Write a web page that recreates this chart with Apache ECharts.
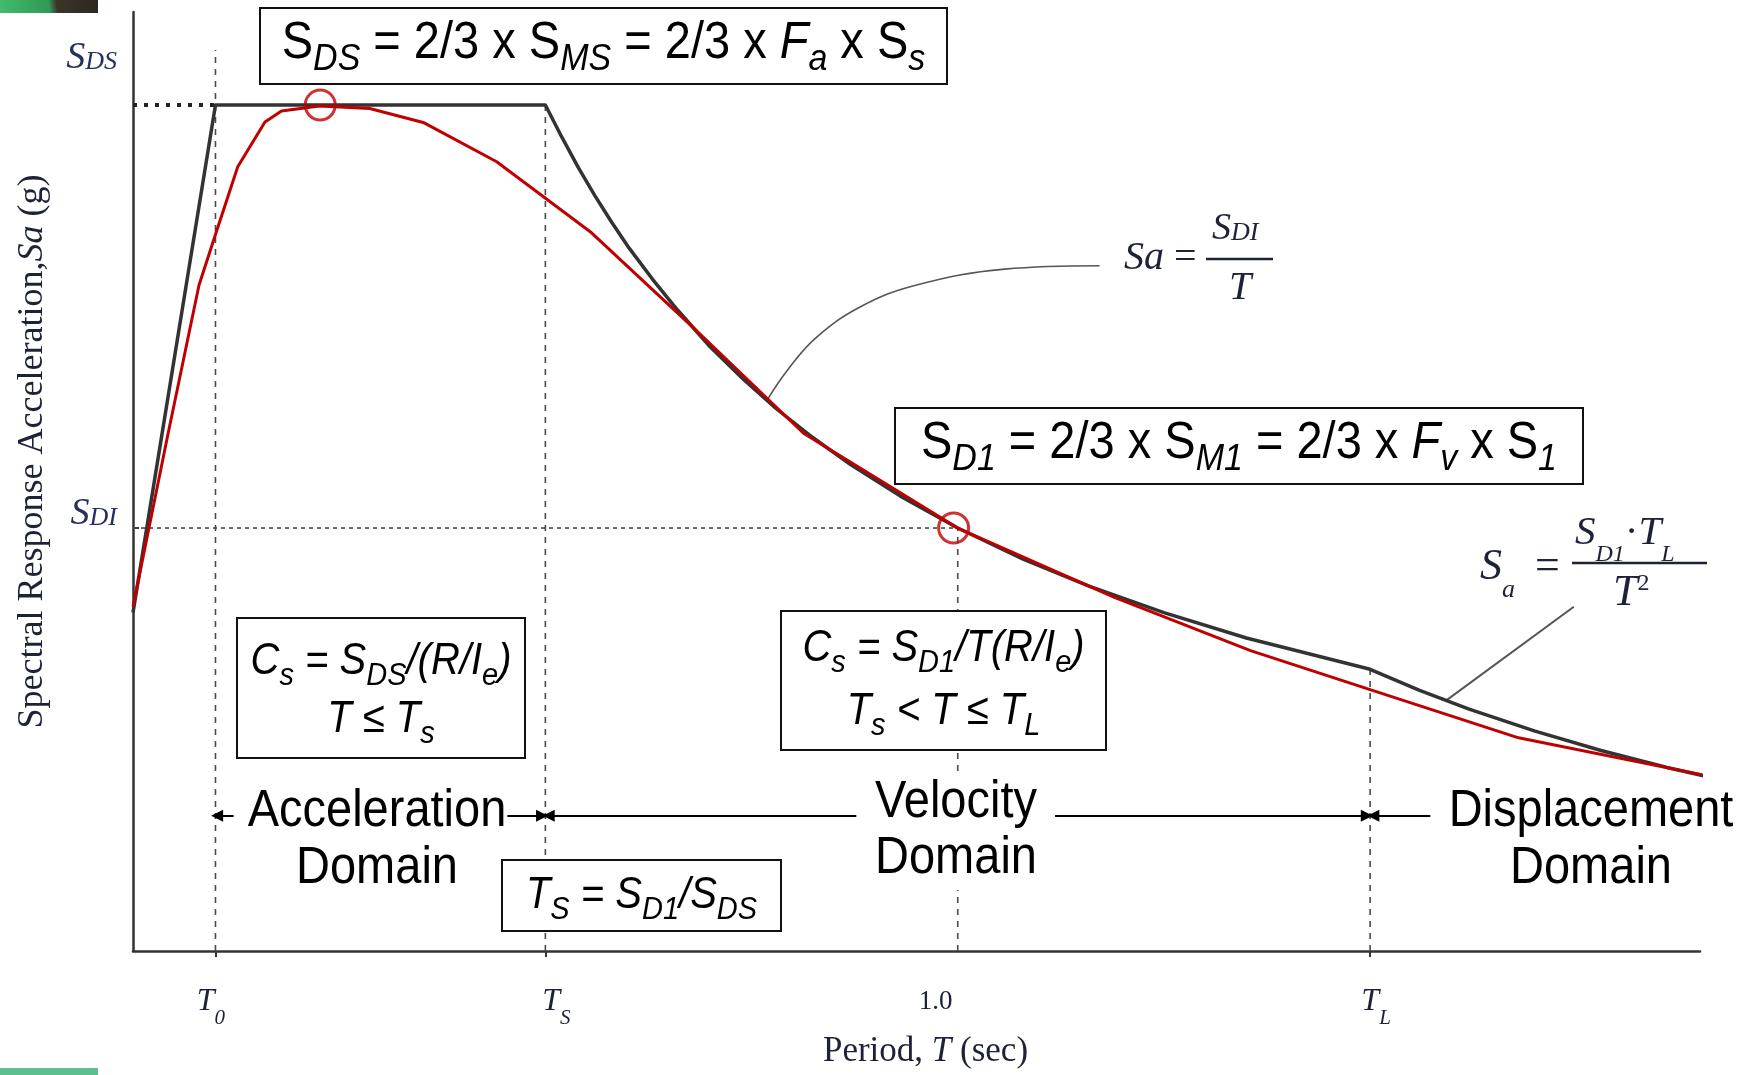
<!DOCTYPE html>
<html><head><meta charset="utf-8">
<script src="https://cdn.jsdelivr.net/npm/echarts@6/dist/echarts.min.js"></script>
<style>html,body{margin:0;padding:0;background:#fff}#c{width:1752px;height:1075px}</style>
</head><body><div id="c"></div>
<script>
// ---- key periods (sec) and spectral levels (normalised: S_DS = 1) ----
const T0 = 0.1, TS = 0.5, T1 = 1.0, TL = 1.5;
const SDS = 1.0, SD1 = 0.5;
const T0_GUIDE_TOP = 1.065;

// design spectrum (black)
const designT  = [0, 0.1, 0.5, 0.52, 0.54, 0.56, 0.58, 0.60, 0.63, 0.66, 0.70, 0.74, 0.78, 0.82, 0.87, 0.93, 1.0, 1.08, 1.16, 1.25, 1.35, 1.5, 1.56, 1.62, 1.70, 1.78, 1.86, 1.95];
const designSa = [0.40, 1.0, 1.0, 0.962, 0.926, 0.893, 0.862, 0.833, 0.794, 0.758, 0.714, 0.676, 0.641, 0.610, 0.575, 0.538, 0.50, 0.463, 0.431, 0.40, 0.370, 0.333, 0.308, 0.286, 0.260, 0.237, 0.217, 0.197];

// site-specific spectrum (red)
const siteT  = [0, 0.042, 0.08, 0.10, 0.127, 0.16, 0.18, 0.226, 0.287, 0.353, 0.441, 0.556, 0.678, 0.813, 1.0, 1.19, 1.355, 1.5, 1.68, 1.95];
const siteSa = [0.407, 0.609, 0.787, 0.847, 0.927, 0.98, 0.993, 0.999, 0.996, 0.979, 0.933, 0.849, 0.738, 0.612, 0.5, 0.418, 0.355, 0.309, 0.252, 0.199];

// circled points
const markT  = [0.227, 0.995];
const markSa = [1.0, 0.5];

// leader lines from the formulas to the curve
const leader1T  = [1.172, 1.057, 0.949, 0.881, 0.827, 0.793, 0.770];
const leader1Sa = [0.810, 0.806, 0.787, 0.761, 0.724, 0.686, 0.653];
const leader2T  = [1.747, 1.592];
const leader2Sa = [0.407, 0.296];

// domain arrows: [from, to] (arrowhead at "to"), all at one Sa level
const arrowSa = 0.16;
const arrowFrom = [0.122, 0.454, 0.877, 1.118, 1.573];
const arrowTo   = [0.102, 0.496, 0.504, 1.496, 1.504];

const xTickValues = [T0, TS, T1, TL];
const xTickMarks  = [T0, TS, TL];
const yTickValues = [SD1, SDS];

const SERIF = "'Liberation Serif', 'Times New Roman', serif";
const SANS  = "'Liberation Sans', Arial, sans-serif";
const INK   = '#1e2236';

const zip = (a, b) => a.map((v, i) => [v, b[i]]);

function guide(points, style) {
  return { type: 'line', data: points, symbol: 'none', silent: true, clip: false, z: 1,
           lineStyle: style, emphasis: { disabled: true } };
}
const vDash = { color: '#4a4a4a', width: 1.6, type: [6, 6] };

// ---------- graphic helpers (annotation boxes and formulas) ----------
function boxRect(x, y, w, h) {
  return { type: 'rect', z: 50, shape: { x, y, width: w, height: h },
           style: { fill: '#fff', stroke: '#111', lineWidth: 2 } };
}
function txt(x, y, text, rich, align, extra, sy) {
  return { type: 'text', z: 52, x, y, scaleY: sy || 1,
    style: Object.assign({ text, rich, align: align || 'center', verticalAlign: 'middle',
      textAlign: align || 'center', textVerticalAlign: 'middle', fill: '#000' }, extra || {}) };
}
function sansRich(F, s, P) {
  return {
    u:  { fontSize: F, fontFamily: SANS, verticalAlign: 'top', fill: '#000' },
    i:  { fontSize: F, fontFamily: SANS, fontStyle: 'italic', verticalAlign: 'top', fill: '#000' },
    si: { fontSize: s, fontFamily: SANS, fontStyle: 'italic', verticalAlign: 'top', padding: [P, 0, 0, 0], fill: '#000' }
  };
}
const rBig = sansRich(47, 34, 21);
const rMid = sansRich(40, 29, 18);
const SY = 1.1;
const dom = { fontSize: 47, fontFamily: SANS };

const graphics = [
  // corner strips of the slide
  { type: 'rect', z: 100, shape: { x: 0, y: 0, width: 98, height: 13 },
    style: { fill: { type: 'linear', x: 0, y: 1, x2: 1, y2: 0, colorStops: [
      { offset: 0, color: '#43bb6c' }, { offset: 0.5, color: '#2f9a55' },
      { offset: 0.58, color: '#3b3529' }, { offset: 1, color: '#2c2820' }] } } },
  { type: 'rect', z: 100, shape: { x: 0, y: 1068, width: 98, height: 7 }, style: { fill: '#5cbf8e' } },

  // S_DS box
  boxRect(260, 8, 687, 76),
  txt(603.5, 48, '{u|S}{si|DS}{u| = 2/3 x S}{si|MS}{u| = 2/3 x }{i|F}{si|a}{u| x S}{si|s}', rBig, 'center', null, SY),
  // S_D1 box
  boxRect(895, 408, 688, 76),
  txt(1239, 448, '{u|S}{si|D1}{u| = 2/3 x S}{si|M1}{u| = 2/3 x }{i|F}{si|v}{u| x S}{si|1}', rBig, 'center', null, SY),
  // Cs (short period) box
  boxRect(237, 618, 288, 140),
  txt(381, 666, '{i|C}{si|s}{i| = S}{si|DS}{i|/(R/I}{si|e}{i|)}', rMid, 'center', null, SY),
  txt(381, 724, '{i|T ≤ T}{si|s}', rMid, 'center', null, SY),
  // Cs (velocity) box
  boxRect(781, 611, 325, 139),
  txt(943.5, 653, '{i|C}{si|s}{i| = S}{si|D1}{i|/T(R/I}{si|e}{i|)}', rMid, 'center', null, SY),
  txt(943.5, 716, '{i|T}{si|s}{i| < T ≤ T}{si|L}', rMid, 'center', null, SY),
  // Ts box
  boxRect(502, 860, 279, 71),
  txt(641.5, 900, '{i|T}{si|S}{i| = S}{si|D1}{i|/S}{si|DS}', rMid, 'center', null, SY),

  // domain labels
  txt(377, 812, 'Acceleration', null, 'center', dom, SY),
  txt(377, 869, 'Domain', null, 'center', dom, SY),
  { type: 'rect', z: 50, shape: { x: 868, y: 772, width: 176, height: 118 }, style: { fill: '#fff' } },
  txt(956, 803, 'Velocity', null, 'center', dom, SY),
  txt(956, 859, 'Domain', null, 'center', dom, SY),
  txt(1591, 812, 'Displacement', null, 'center', dom, SY),
  txt(1591, 869, 'Domain', null, 'center', dom, SY),

  // formula Sa = SD1 / T
  txt(1124, 258.5, '{i|Sa}{u| =}', {
      i: { fontSize: 40, fontFamily: SERIF, fontStyle: 'italic', fill: INK },
      u: { fontSize: 40, fontFamily: SERIF, fill: INK } }, 'left'),
  { type: 'line', z: 52, shape: { x1: 1206, y1: 259, x2: 1273, y2: 259 }, style: { stroke: INK, lineWidth: 2.5 } },
  txt(1212, 229, '{b|S}{c|DI}', {
      b: { fontSize: 38, fontFamily: SERIF, fontStyle: 'italic', verticalAlign: 'top', fill: INK },
      c: { fontSize: 26, fontFamily: SERIF, fontStyle: 'italic', verticalAlign: 'top', padding: [10, 0, 0, 0], fill: INK } }, 'left'),
  txt(1240, 288.5, 'T', null, 'center', { fontSize: 40, fontFamily: SERIF, fontStyle: 'italic', fill: INK }),

  // formula Sa = SD1*TL / T^2
  txt(1480, 574, '{b|S}{s|a}{u|=}', {
      b: { fontSize: 44, fontFamily: SERIF, fontStyle: 'italic', verticalAlign: 'top', fill: INK },
      s: { fontSize: 26, fontFamily: SERIF, fontStyle: 'italic', verticalAlign: 'top', padding: [32, 0, 0, 0], fill: INK },
      u: { fontSize: 44, fontFamily: SERIF, verticalAlign: 'top', padding: [0, 0, 0, 20], fill: INK } }, 'left'),
  { type: 'line', z: 52, shape: { x1: 1572, y1: 563, x2: 1707, y2: 563 }, style: { stroke: INK, lineWidth: 2.5 } },
  txt(1575, 540, '{b|S}{s|D1}{u|·}{b|T}{s|L}', {
      b: { fontSize: 41, fontFamily: SERIF, fontStyle: 'italic', verticalAlign: 'top', fill: INK },
      s: { fontSize: 24, fontFamily: SERIF, fontStyle: 'italic', verticalAlign: 'top', padding: [30, 0, 0, 0], fill: INK },
      u: { fontSize: 41, fontFamily: SERIF, verticalAlign: 'top', fill: INK } }, 'left'),
  txt(1613, 593, '{b|T}{p|2}', {
      b: { fontSize: 44, fontFamily: SERIF, fontStyle: 'italic', verticalAlign: 'top', fill: INK },
      p: { fontSize: 24, fontFamily: SERIF, verticalAlign: 'top', padding: [1, 0, 0, 0], fill: INK } }, 'left')
];

// ---------- axis label rich styles ----------
const xRich = {
  t:  { fontFamily: SERIF, fontStyle: 'italic', fontSize: 32, color: INK, verticalAlign: 'top' },
  tS: { fontFamily: SERIF, fontStyle: 'italic', fontSize: 32, color: INK, verticalAlign: 'top', padding: [0, 0, 0, 22] },
  tL: { fontFamily: SERIF, fontStyle: 'italic', fontSize: 32, color: INK, verticalAlign: 'top', padding: [0, 0, 0, 12] },
  s:  { fontFamily: SERIF, fontStyle: 'italic', fontSize: 21, color: INK, verticalAlign: 'top', padding: [22, 0, 0, 0] },
  s0: { fontFamily: SERIF, fontStyle: 'italic', fontSize: 21, color: INK, verticalAlign: 'top', padding: [22, 9, 0, 0] },
  n:  { fontFamily: SERIF, fontSize: 27, color: INK, verticalAlign: 'top', padding: [2, 44, 0, 0] }
};
const yRich = {
  b1: { fontFamily: SERIF, fontStyle: 'italic', fontSize: 38, color: '#26305a', verticalAlign: 'top', padding: [0, 0, 94, 0] },
  c1: { fontFamily: SERIF, fontStyle: 'italic', fontSize: 26, color: '#26305a', verticalAlign: 'top', padding: [10, 0, 0, 0] },
  b2: { fontFamily: SERIF, fontStyle: 'italic', fontSize: 38, color: '#26305a', verticalAlign: 'top', padding: [0, 0, 28, 0] },
  c2: { fontFamily: SERIF, fontStyle: 'italic', fontSize: 26, color: '#26305a', verticalAlign: 'top', padding: [10, 0, 0, 0] }
};
const near = (a, b) => Math.abs(a - b) < 1e-6;

const option = {
  animation: false,
  backgroundColor: '#fff',
  grid: { left: 133, right: 52, top: 12, bottom: 124, containLabel: false },
  xAxis: {
    type: 'value', min: 0, max: 1.9,
    splitLine: { show: false },
    axisLine: { lineStyle: { color: '#333', width: 2.5 } },
    axisTick: { customValues: xTickMarks, length: 6, lineStyle: { color: '#333', width: 2 } },
    axisLabel: {
      customValues: xTickValues, margin: 35, rich: xRich,
      formatter: v => near(v, T0) ? '{t|T}{s0|0}' : near(v, TS) ? '{tS|T}{s|S}' : near(v, TL) ? '{tL|T}{s|L}' : '{n|1.0}'
    },
    name: '{n|Period, }{i|T}{n| (sec)}', nameLocation: 'middle', nameGap: 83,
    nameTextStyle: { padding: [0, 0, 0, 18], rich: {
      n: { fontFamily: SERIF, fontSize: 35, color: INK },
      i: { fontFamily: SERIF, fontSize: 35, fontStyle: 'italic', color: INK } } }
  },
  yAxis: {
    type: 'value', min: 0, max: 1.11,
    splitLine: { show: false },
    axisLine: { lineStyle: { color: '#333', width: 2.5 } },
    axisTick: { customValues: [SD1], inside: true, length: 6, lineStyle: { color: '#333', width: 2 } },
    axisLabel: {
      customValues: yTickValues, margin: 16, rich: yRich,
      formatter: v => near(v, SDS) ? '{b1|S}{c1|DS}' : '{b2|S}{c2|DI}'
    },
    name: '{n|Spectral Response Acceleration,}{i|Sa}{n| (g)}', nameLocation: 'middle', nameRotate: 90, nameGap: 82,
    nameTextStyle: { padding: [0, 0, 0, 60], rich: {
      n: { fontFamily: SERIF, fontSize: 36, color: INK },
      i: { fontFamily: SERIF, fontSize: 36, fontStyle: 'italic', color: INK } } }
  },
  series: [
    guide([[0, SDS], [T0, SDS]], { color: '#222', width: 4, type: [4, 7] }),
    guide([[0, SD1], [T1, SD1]], { color: '#4a4a4a', width: 1.6, type: [4, 4] }),
    guide([[T0, 0], [T0, T0_GUIDE_TOP]], vDash),
    guide([[TS, 0], [TS, SDS]], vDash),
    guide([[T1, 0], [T1, SD1]], vDash),
    guide([[TL, 0], [TL, designSa[designT.indexOf(TL)]]], vDash),
    { type: 'line', name: 'leader1', data: zip(leader1T, leader1Sa), smooth: 0.4, symbol: 'none', silent: true, clip: false, z: 2,
      lineStyle: { color: '#555', width: 1.6 } },
    { type: 'line', name: 'leader2', data: zip(leader2T, leader2Sa), symbol: 'none', silent: true, clip: false, z: 2,
      lineStyle: { color: '#555', width: 2 } },
    { type: 'line', name: 'Design spectrum', data: zip(designT, designSa), symbol: 'none', silent: true, clip: false, z: 3,
      lineStyle: { color: '#333', width: 3.5, join: 'round' } },
    { type: 'line', name: 'Site spectrum', data: zip(siteT, siteSa), symbol: 'none', silent: true, clip: false, z: 4,
      lineStyle: { color: '#c00000', width: 3, join: 'round' } },
    { type: 'scatter', data: zip(markT, markSa), symbol: 'circle', symbolSize: 30, silent: true, z: 5,
      itemStyle: { color: 'rgba(0,0,0,0)', borderColor: '#c00000', borderWidth: 3 } },
    { type: 'line', name: 'domains', data: [], silent: true, z: 6,
      markLine: { silent: true, animation: false, symbol: ['none', 'triangle'], symbolSize: 12,
        label: { show: false }, emphasis: { disabled: true },
        lineStyle: { color: '#000', width: 2, type: 'solid' },
        data: arrowFrom.map((a, i) => [{ coord: [a, arrowSa] }, { coord: [arrowTo[i], arrowSa] }]) } }
  ],
  graphic: { elements: graphics }
};

const chart = echarts.init(document.getElementById('c'), null, { renderer: 'canvas' });
chart.setOption(option);
</script>
</body></html>
